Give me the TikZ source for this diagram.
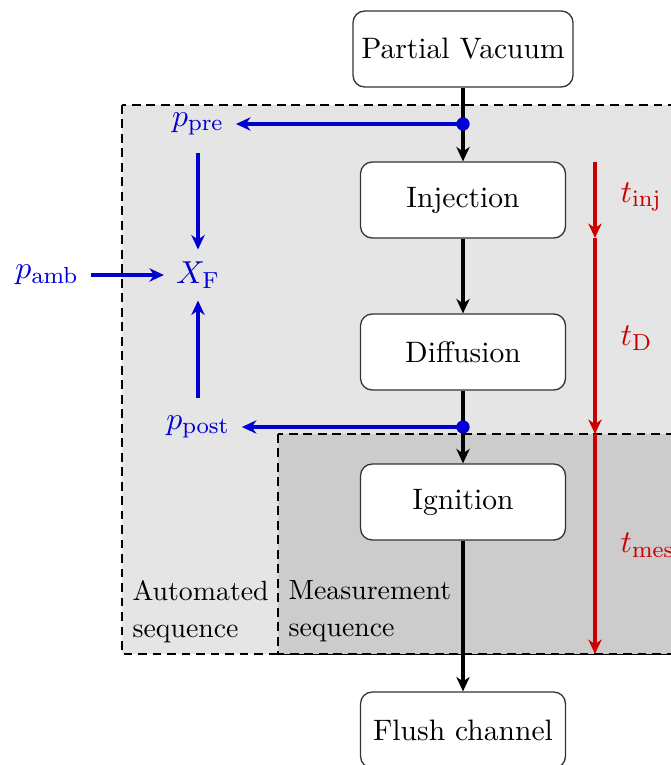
\documentclass[tikz,border=0pt]{standalone}
\usetikzlibrary{arrows.meta}
\definecolor{myblue}{RGB}{0,0,210}
\definecolor{myred}{RGB}{204,0,0}
\definecolor{autogray}{RGB}{229,229,229}
\definecolor{measgray}{RGB}{204,204,204}
\begin{document}
\begin{tikzpicture}[x=0.345pt,y=-0.345pt,
  font=\fontsize{10.2}{13}\selectfont,
  stepbox/.style={draw=black!80, line width=0.45pt, rounded corners=4pt, fill=white,
    minimum width=70.7pt, minimum height=26.2pt, inner sep=0pt},
  tip/.style={-{Stealth[length=5pt,width=4.6pt,inset=1.6pt]}},
  flow/.style={tip, line width=1.2pt, black},
  bflow/.style={tip, line width=1.2pt, myblue},
  rflow/.style={tip, line width=1.2pt, myred},
  seqbox/.style={draw=black, line width=0.6pt, dash pattern=on 3pt off 2pt},
  blab/.style={text=myblue, inner sep=1pt, font=\fontsize{10.8}{13}\selectfont},
  rlab/.style={text=myred, inner sep=0pt, anchor=west, font=\fontsize{10.8}{13}\selectfont},
  seqlab/.style={align=left, anchor=north west, inner sep=0pt, text=black,
    font=\fontsize{9.6}{12.6}\selectfont},
  dot/.style={circle, fill=myblue, inner sep=0pt, minimum size=4.6pt}
]
\useasboundingbox (0,0) rectangle (670,765);
% sequence regions
\draw[seqbox, fill=autogray] (122,105) rectangle (720,654);
\draw[seqbox, fill=measgray] (278,434) rectangle (720,654);
\node[seqlab] (auto) at (132,580) {Automated\\sequence};
\node[seqlab] (meas) at (288,580) {Measurement\\sequence};
% steps
\node[stepbox, minimum width=75.9pt] (pv) at (463,49) {Partial Vacuum};
\node[stepbox] (inj) at (463,200) {Injection};
\node[stepbox] (dif) at (463,352) {Diffusion};
\node[stepbox] (ign) at (463,502) {Ignition};
\node[stepbox] (fl) at (463,730) {Flush channel};
% junctions
\coordinate (d1) at (463,124);
\coordinate (d2) at (463,427);
% black flow
\draw[flow] (pv) -- (inj);
\draw[flow] (inj) -- (dif);
\draw[flow] (dif) -- (ign);
\draw[flow] (ign) -- (fl);
% blue
\node[blab] (ppre) at (198,124) {$p_{\mathrm{pre}}$};
\node[blab] (xf) at (198,275) {$X_{\mathrm{F}}$};
\node[blab] (pamb) at (47,275) {$p_{\mathrm{amb}}$};
\node[blab] (ppost) at (198,427) {$p_{\mathrm{post}}$};
\draw[bflow, shorten >=3pt] (d1) -- (ppre);
\draw[bflow, shorten >=3pt] (d2) -- (ppost);
\draw[bflow, shorten <=5pt, shorten >=3pt] (ppre) -- (xf);
\draw[bflow, shorten <=5pt, shorten >=3pt] (ppost) -- (xf);
\draw[bflow, shorten <=3pt, shorten >=3pt] (pamb.east |- xf) -- (xf);
\node[dot] at (d1) {};
\node[dot] at (d2) {};
% red time axis
\coordinate (r0) at (595,162);
\coordinate (r1) at (595,238);
\coordinate (r2) at (595,434);
\coordinate (r3) at (595,654);
\draw[rflow] (r0) -- (r1);
\draw[rflow] (r1) -- (r2);
\draw[rflow] (r2) -- (r3);
\node[rlab] (tinj) at (620,197) {$t_{\mathrm{inj}}$};
\node[rlab] (tD) at (620,338) {$t_{\mathrm{D}}$};
\node[rlab] (tmes) at (620,545) {$t_{\mathrm{mes}}$};
\end{tikzpicture}
\end{document}
